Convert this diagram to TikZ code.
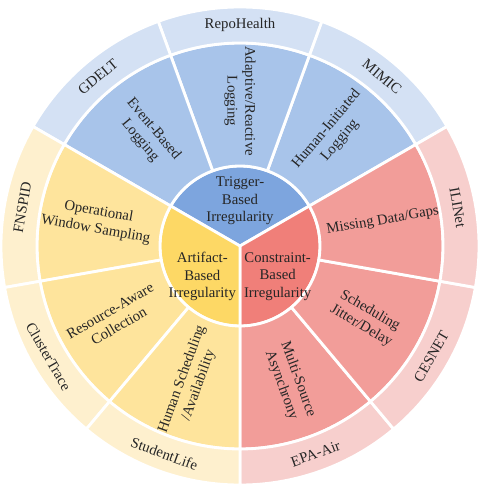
\documentclass[tikz,border=0pt]{standalone}
\usepackage{fontspec}
\setmainfont{Liberation Serif}

\definecolor{trigA}{HTML}{7DA5DE}
\definecolor{trigB}{HTML}{A8C4EA}
\definecolor{trigC}{HTML}{D4E1F4}
\definecolor{consA}{HTML}{F07F79}
\definecolor{consB}{HTML}{F29D99}
\definecolor{consC}{HTML}{F7CFCD}
\definecolor{artA}{HTML}{FDD865}
\definecolor{artB}{HTML}{FEE49C}
\definecolor{artC}{HTML}{FEF0CE}

% ring sector: start angle, end angle, inner radius, outer radius, colour
\newcommand{\ringsector}[5]{%
  \filldraw[fill=#5] (#1:#3) arc[start angle=#1,end angle=#2,radius=#3]
    -- (#2:#4) arc[start angle=#2,end angle=#1,radius=#4] -- cycle;}

\begin{document}
\begin{tikzpicture}
  \useasboundingbox (-4.8,-4.92) rectangle (4.8,4.92);

  \begin{scope}[draw=white, line width=1.6pt, line join=round]
    % inner circle
    \filldraw[fill=trigA] (0,0) -- (30:1.6) arc[start angle=30,end angle=150,radius=1.6] -- cycle;
    \filldraw[fill=consA] (0,0) -- (-90:1.6) arc[start angle=-90,end angle=30,radius=1.6] -- cycle;
    \filldraw[fill=artA] (0,0) -- (150:1.6) arc[start angle=150,end angle=270,radius=1.6] -- cycle;

    % middle and outer rings
    \foreach \a/\col in {30/trig,70/trig,110/trig,-90/cons,-50/cons,-10/cons,150/art,190/art,230/art}{
      \pgfmathsetmacro{\b}{\a+40}
      \ringsector{\a}{\b}{1.6}{4.06}{\col B}
      \ringsector{\a}{\b}{4.06}{4.78}{\col C}
    }
  \end{scope}

  \begin{scope}[every node/.style={align=center, text=black!85, font=\fontsize{8.4}{10}\selectfont, inner sep=0pt}]
    % inner labels
    \node (trigger)    at (90:0.9)  {Trigger-\\Based\\Irregularity};
    \node (constraint) at (321:0.97) {Constraint-\\Based\\Irregularity};
    \node (artifact)   at (219:0.97) {Artifact-\\Based\\Irregularity};

    % middle labels
    \node[rotate=-50] (event)    at (130:2.9) {Event-Based\\Logging};
    \node[rotate=-90] (adaptive) at (90:2.9)  {Adaptive/Reactive\\Logging};
    \node[rotate=50]  (human)    at (50:2.9)  {Human-Initiated\\Logging};
    \node[rotate=10]  (missing)  at (10:2.9)  {Missing Data/Gaps};
    \node[rotate=-30] (jitter)   at (-30:2.9) {Scheduling\\Jitter/Delay};
    \node[rotate=-70] (multi)    at (-70:2.9) {Multi-Source\\Asynchrony};
    \node[rotate=70]  (humansch) at (250:2.9) {Human Scheduling\\/Availability};
    \node[rotate=30]  (resource) at (210:2.9) {Resource-Aware\\Collection};
    \node[rotate=-10] (window)   at (170:2.9) {Operational\\Window Sampling};

    % outer labels
    \node[rotate=40]  (gdelt)   at (130:4.42) {GDELT};
    \node             (repo)    at (90:4.42)  {RepoHealth};
    \node[rotate=-40] (mimic)   at (50:4.42)  {MIMIC};
    \node[rotate=-80] (ilinet)  at (10:4.42)  {ILINet};
    \node[rotate=60]  (cesnet)  at (-30:4.42) {CESNET};
    \node[rotate=20]  (epa)     at (-70:4.42) {EPA-Air};
    \node[rotate=-20] (student) at (250:4.42) {StudentLife};
    \node[rotate=-60] (cluster) at (210:4.42) {ClusterTrace};
    \node[rotate=80]  (fnspid)  at (170:4.42) {FNSPID};
  \end{scope}

\end{tikzpicture}
\end{document}
